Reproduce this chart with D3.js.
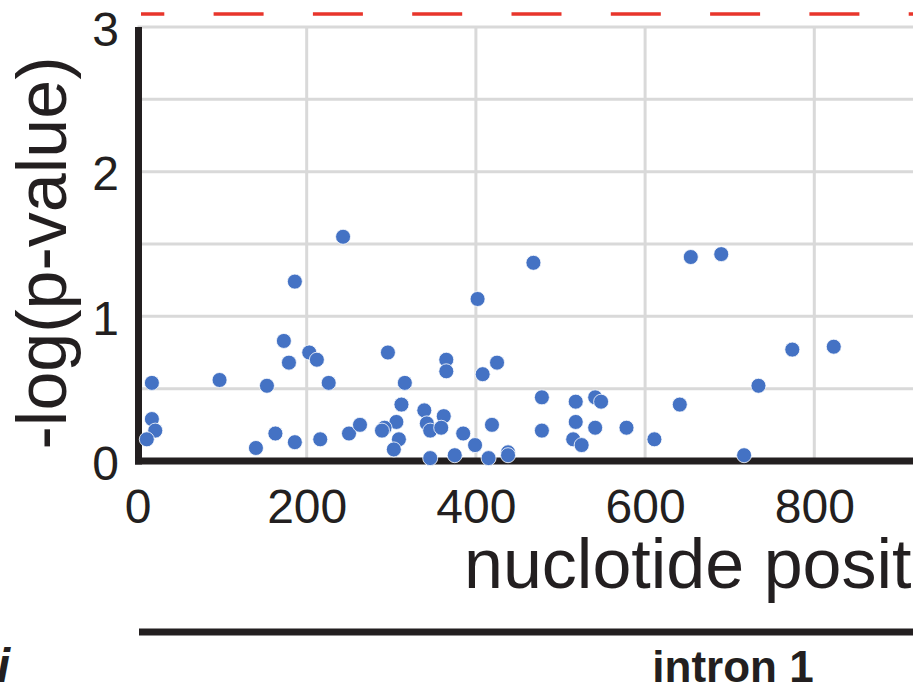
<!DOCTYPE html>
<html>
<head>
<meta charset="utf-8">
<script src="https://cdn.jsdelivr.net/npm/d3@7"></script>
<style>
  body { margin: 0; background: #fff; }
  svg { display: block; font-family: "Liberation Sans", Arial, Helvetica, sans-serif; }
</style>
</head>
<body>
<svg id="chart"></svg>
<script>
// nucleotide position vs -log(p-value)
const posX = [243, 186, 173, 203, 212, 179, 17, 97, 153, 226,
  17, 21, 11, 163, 186, 140, 216, 250, 263, 468,
  402, 296, 365, 365, 425, 408, 316, 478, 312, 339,
  362, 306, 292, 289, 342, 346, 359, 309, 303, 385,
  419, 399, 346, 375, 415, 438, 438, 478, 518, 541,
  548, 518, 541, 515, 525, 654, 690, 774, 823, 734,
  641, 578, 611, 717];
const negLogP = [1.55, 1.24, 0.83, 0.75, 0.70, 0.68, 0.54, 0.56, 0.52, 0.54,
  0.29, 0.21, 0.15, 0.19, 0.13, 0.09, 0.15, 0.19, 0.25, 1.37,
  1.12, 0.75, 0.70, 0.62, 0.68, 0.60, 0.54, 0.44, 0.39, 0.35,
  0.31, 0.27, 0.23, 0.21, 0.26, 0.21, 0.23, 0.15, 0.08, 0.19,
  0.25, 0.11, 0.02, 0.04, 0.02, 0.06, 0.04, 0.21, 0.41, 0.44,
  0.41, 0.27, 0.23, 0.15, 0.11, 1.41, 1.43, 0.77, 0.79, 0.52,
  0.39, 0.23, 0.15, 0.04];
const xTicks = [0, 200, 400, 600, 800];
const xGrid = [200, 400, 600, 800, 1000];
const yTicks = [0, 1, 2, 3];
const yGrid = [0.5, 1, 1.5, 2, 2.5, 3];
const threshold = 3.09;

const W = 913, H = 690;
const svg = d3.select('#chart').attr('width', W).attr('height', H);

const x = d3.scaleLinear().domain([0, 1000]).range([137.5, 983.5]);
const y = d3.scaleLinear().domain([0, 3]).range([461, 27]);

// grid
const grid = svg.append('g');
grid.selectAll('line.h')
  .data(yGrid)
  .enter()
  .append('line')
  .attr('x1', x(0)).attr('x2', W)
  .attr('y1', d => y(d)).attr('y2', d => y(d))
  .style('stroke', '#d9d9d9').style('stroke-width', 3);
grid.selectAll('line.v')
  .data(xGrid)
  .enter()
  .append('line')
  .attr('x1', d => x(d)).attr('x2', d => x(d))
  .attr('y1', y(3)).attr('y2', y(0))
  .style('stroke', '#d9d9d9').style('stroke-width', 3);

// threshold line
svg.append('line')
  .attr('x1', 141).attr('x2', W)
  .attr('y1', y(threshold)).attr('y2', y(threshold))
  .style('stroke', '#e8352b')
  .style('stroke-width', 3.5)
  .style('stroke-dasharray', '50,49.3')
  .style('stroke-dashoffset', 26.7);

// tick labels
const xAxis = svg.append('g')
  .attr('transform', 'translate(0,' + y(0) + ')')
  .call(d3.axisBottom(x).tickValues(xTicks).tickSize(0).tickPadding(28).tickFormat(d3.format('d')));
const yAxis = svg.append('g')
  .attr('transform', 'translate(' + x(0) + ',0)')
  .call(d3.axisLeft(y).tickValues(yTicks).tickSize(0).tickPadding(18.5).tickFormat(d3.format('d')));
[xAxis, yAxis].forEach(a => {
  a.select('.domain').remove();
  a.selectAll('text')
    .style('font-family', '"Liberation Sans", Arial, sans-serif')
    .style('font-size', '48px')
    .style('fill', '#231f20');
});
yAxis.selectAll('text').attr('dy', '0.38em');

// axis lines
svg.append('line')
  .attr('x1', 138.5).attr('x2', 138.5)
  .attr('y1', y(3)).attr('y2', y(0) + 3.5)
  .style('stroke', '#231f20').style('stroke-width', 7);
svg.append('line')
  .attr('x1', 135).attr('x2', W)
  .attr('y1', y(0)).attr('y2', y(0))
  .style('stroke', '#231f20').style('stroke-width', 7);

// points
svg.append('g')
  .selectAll('circle')
  .data(posX.map((p, i) => ({ pos: p, val: negLogP[i] })))
  .enter()
  .append('circle')
  .attr('cx', d => x(d.pos))
  .attr('cy', d => y(d.val))
  .attr('r', 7.5)
  .style('fill', '#4472c4')
  .style('stroke', '#ffffff')
  .style('stroke-width', 0.8);

// titles
svg.append('text')
  .attr('x', 464).attr('y', 588)
  .style('font-size', '70px')
  .style('fill', '#231f20')
  .text('nuclotide position');
svg.append('text')
  .attr('transform', 'translate(66,253) rotate(-90)')
  .attr('text-anchor', 'middle')
  .style('font-size', '70px')
  .style('fill', '#231f20')
  .text('-log(p-value)');

// gene track below
svg.append('line')
  .attr('x1', 139).attr('x2', W)
  .attr('y1', 632).attr('y2', 632)
  .style('stroke', '#231f20').style('stroke-width', 7);
svg.append('text')
  .attr('x', 733).attr('y', 682)
  .attr('text-anchor', 'middle')
  .style('font-size', '44px')
  .style('font-weight', 'bold')
  .style('fill', '#231f20')
  .text('intron 1');
svg.append('text')
  .attr('x', 10).attr('y', 682)
  .attr('text-anchor', 'end')
  .style('font-size', '48px')
  .style('font-weight', 'bold')
  .style('font-style', 'italic')
  .style('fill', '#231f20')
  .text('i');
</script>
</body>
</html>
